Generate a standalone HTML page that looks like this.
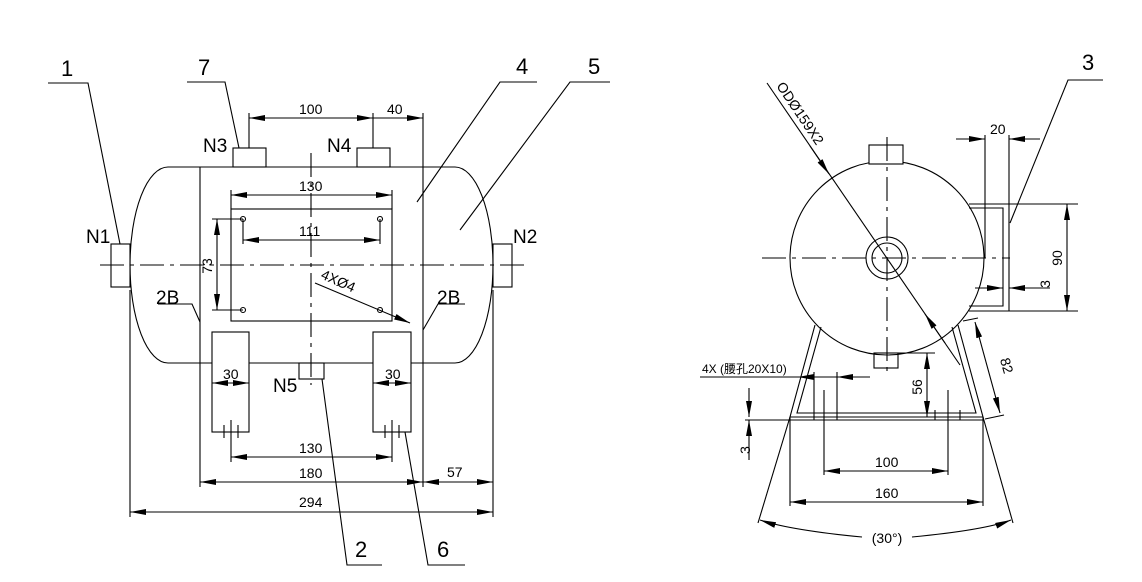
<!DOCTYPE html>
<html><head><meta charset="utf-8"><style>
body{margin:0;background:#fff}
svg{display:block}
text{font-family:"Liberation Sans","Noto Sans CJK SC",sans-serif;fill:#000}
.t{font-size:14px}
.b{font-size:22px}
.n{font-size:19px}
</style></head><body>
<svg width="1142" height="582" viewBox="0 0 1142 582" xmlns="http://www.w3.org/2000/svg">
<defs>
<marker id="a" viewBox="0 0 16 6" refX="16" refY="3" markerWidth="16" markerHeight="6" markerUnits="userSpaceOnUse" orient="auto-start-reverse"><path d="M0,0L16,3L0,6z" fill="#000"/></marker>
</defs>
<g stroke="#000" stroke-width="1.1" fill="none">
<path d="M168,167 L455,167 A38,98 0 0 1 455,363 L168,363 A38,98 0 0 1 168,167 Z"/>
<line x1="200" y1="167" x2="200" y2="487"/>
<line x1="423" y1="113" x2="423" y2="487"/>
<rect x="233" y="148" width="33" height="19"/>
<rect x="357" y="148" width="33" height="19"/>
<rect x="111" y="244" width="19" height="43"/>
<rect x="493" y="244" width="19" height="43"/>
<rect x="231" y="209" width="161" height="112"/>
<rect x="212" y="332" width="37" height="100" fill="#fff"/>
<rect x="373" y="332" width="38" height="100" fill="#fff"/>
<rect x="299" y="363" width="25" height="16"/>
<line x1="100" y1="265" x2="524" y2="265" stroke-dasharray="24,6,4,6"/>
<line x1="311" y1="153" x2="311" y2="385" stroke-dasharray="24,6,4,6"/>
<circle cx="243" cy="219" r="2.5"/><circle cx="380" cy="219" r="2.5"/>
<circle cx="243" cy="310" r="2.5"/><circle cx="380" cy="310" r="2.5"/>
<line x1="249" y1="148" x2="249" y2="113"/><line x1="373" y1="148" x2="373" y2="113"/>
<line x1="249" y1="118" x2="373" y2="118" marker-start="url(#a)" marker-end="url(#a)"/>
<line x1="373" y1="118" x2="423" y2="118" marker-end="url(#a)"/>
<line x1="231" y1="190" x2="231" y2="209"/><line x1="392" y1="190" x2="392" y2="209"/>
<line x1="231" y1="195" x2="392" y2="195" marker-start="url(#a)" marker-end="url(#a)"/>
<line x1="243" y1="219" x2="243" y2="244"/><line x1="380" y1="219" x2="380" y2="244"/>
<line x1="243" y1="240" x2="380" y2="240" marker-start="url(#a)" marker-end="url(#a)"/>
<line x1="212" y1="219" x2="243" y2="219"/><line x1="212" y1="310" x2="243" y2="310"/>
<line x1="217" y1="219" x2="217" y2="310" marker-start="url(#a)" marker-end="url(#a)"/>
<line x1="315" y1="283" x2="410" y2="323" marker-end="url(#a)"/>
<line x1="212" y1="383" x2="249" y2="383" marker-start="url(#a)" marker-end="url(#a)"/>
<line x1="373" y1="383" x2="411" y2="383" marker-start="url(#a)" marker-end="url(#a)"/>
<line x1="231" y1="420" x2="231" y2="462"/><line x1="392" y1="420" x2="392" y2="462"/>
<line x1="224" y1="425" x2="224" y2="438"/><line x1="238" y1="425" x2="238" y2="438"/>
<line x1="385" y1="425" x2="385" y2="438"/><line x1="399" y1="425" x2="399" y2="438"/>
<line x1="231" y1="457" x2="392" y2="457" marker-start="url(#a)" marker-end="url(#a)"/>
<line x1="200" y1="482" x2="423" y2="482" marker-start="url(#a)" marker-end="url(#a)"/>
<line x1="423" y1="482" x2="493" y2="482" marker-start="url(#a)" marker-end="url(#a)"/>
<line x1="130" y1="290" x2="130" y2="517"/><line x1="493" y1="290" x2="493" y2="517"/>
<line x1="130" y1="512" x2="493" y2="512" marker-start="url(#a)" marker-end="url(#a)"/>
<polyline points="48,83 88,83 120,244"/>
<polyline points="187,82 225,82 239,148"/>
<polyline points="537,82 500,82 417,202"/>
<polyline points="610,82 570,82 460,230"/>
<polyline points="158,304 192,304 200,322"/>
<polyline points="465,304 438,304 423,330"/>
<polyline points="322,379 347,565 382,565"/>
<polyline points="405,432 428,565 465,565"/>
<circle cx="887" cy="258" r="97"/>
<circle cx="887" cy="258" r="21"/><circle cx="887" cy="258" r="15"/>
<rect x="869" y="145" width="34" height="19" fill="#fff"/>
<rect x="874" y="353" width="24" height="15"/>
<line x1="762" y1="258" x2="1010" y2="258" stroke-dasharray="24,6,4,6"/>
<line x1="887" y1="137" x2="887" y2="377" stroke-dasharray="24,6,4,6"/>
<line x1="767" y1="83" x2="960" y2="365"/>
<line x1="810" y1="146" x2="829" y2="174" marker-end="url(#a)"/>
<line x1="925" y1="314" x2="945" y2="343" marker-start="url(#a)"/>
<path d="M969,204 H1009 V311 H969 M969,208 H1003 V306 H969"/>
<line x1="985" y1="135" x2="985" y2="258"/><line x1="1009" y1="135" x2="1009" y2="204"/>
<line x1="956" y1="139" x2="985" y2="139" marker-end="url(#a)"/>
<line x1="1040" y1="139" x2="1009" y2="139" marker-end="url(#a)"/>
<line x1="1009" y1="204" x2="1078" y2="204"/><line x1="1009" y1="311" x2="1078" y2="311"/>
<line x1="1067" y1="204" x2="1067" y2="311" marker-start="url(#a)" marker-end="url(#a)"/>
<line x1="975" y1="288" x2="1003" y2="288" marker-end="url(#a)"/>
<line x1="1050" y1="288" x2="1009" y2="288" marker-end="url(#a)"/>
<polyline points="1103,80 1068,80 1010,223"/>
<path d="M815,325 L790,417 L983,417 L958,325"/>
<path d="M821,327 L797,413 L976,413 L952,327"/>
<line x1="745" y1="420" x2="983" y2="420"/>
<line x1="700" y1="377" x2="865" y2="377"/>
<line x1="815" y1="377" x2="798" y2="377" marker-end="url(#a)"/>
<line x1="814" y1="372" x2="814" y2="420"/><line x1="837" y1="372" x2="837" y2="420"/>
<line x1="870" y1="377" x2="837" y2="377" marker-end="url(#a)"/>
<line x1="898" y1="353" x2="935" y2="353"/>
<line x1="927" y1="353" x2="927" y2="417" marker-start="url(#a)" marker-end="url(#a)"/>
<line x1="935" y1="410" x2="935" y2="420"/><line x1="960" y1="410" x2="960" y2="420"/>
<line x1="963" y1="321" x2="978" y2="318"/><line x1="985" y1="419" x2="1004" y2="415"/>
<line x1="975" y1="322" x2="1000" y2="413" marker-start="url(#a)" marker-end="url(#a)"/>
<line x1="749" y1="388" x2="749" y2="417" marker-end="url(#a)"/>
<line x1="749" y1="460" x2="749" y2="420" marker-end="url(#a)"/>
<line x1="824" y1="390" x2="824" y2="475"/><line x1="948" y1="390" x2="948" y2="475"/>
<line x1="824" y1="471" x2="948" y2="471" marker-start="url(#a)" marker-end="url(#a)"/>
<line x1="790" y1="417" x2="790" y2="506"/><line x1="983" y1="417" x2="983" y2="506"/>
<line x1="790" y1="502" x2="983" y2="502" marker-start="url(#a)" marker-end="url(#a)"/>
<line x1="790" y1="417" x2="758" y2="523"/><line x1="983" y1="417" x2="1013" y2="523"/>
<path d="M760,520 Q790,530 862,537" marker-start="url(#a)"/>
<path d="M1011,520 Q985,530 912,537" marker-start="url(#a)"/>
</g>
<g>
<text class="b" x="61" y="76">1</text>
<text class="b" x="198" y="75">7</text>
<text class="b" x="516" y="74">4</text>
<text class="b" x="588" y="74">5</text>
<text class="b" x="1082" y="70">3</text>
<text class="b" x="355" y="557">2</text>
<text class="b" x="437" y="557">6</text>
<text class="n" x="86" y="243">N1</text>
<text class="n" x="513" y="243">N2</text>
<text class="n" x="203" y="152">N3</text>
<text class="n" x="327" y="152">N4</text>
<text class="n" x="273" y="392">N5</text>
<text class="n" x="156" y="304">2B</text>
<text class="n" x="437" y="304">2B</text>
<text class="t" x="299" y="114">100</text>
<text class="t" x="387" y="114">40</text>
<text class="t" x="299" y="191">130</text>
<text class="t" x="299" y="236">111</text>
<text class="t" transform="translate(212,266) rotate(-90)" text-anchor="middle">73</text>
<text class="t" transform="translate(320,278) rotate(24)">4XØ4</text>
<text class="t" x="223" y="379">30</text>
<text class="t" x="385" y="379">30</text>
<text class="t" x="299" y="453">130</text>
<text class="t" x="299" y="478">180</text>
<text class="t" x="447" y="477">57</text>
<text class="t" x="299" y="507">294</text>
<text class="t" transform="translate(776,86) rotate(56)">ODØ159X2</text>
<text class="t" x="990" y="134">20</text>
<text class="t" transform="translate(1062,258) rotate(-90)" text-anchor="middle">90</text>
<text class="t" transform="translate(1050,284) rotate(-90)" text-anchor="middle">3</text>
<text class="t" x="702" y="373" style="font-size:12px">4X (腰孔20X10)</text>
<text class="t" transform="translate(922,387) rotate(-90)" text-anchor="middle">56</text>
<text class="t" transform="translate(1002,367) rotate(74)" text-anchor="middle">82</text>
<text class="t" transform="translate(750,450) rotate(-90)" text-anchor="middle">3</text>
<text class="t" x="875" y="467">100</text>
<text class="t" x="875" y="498">160</text>
<text class="t" x="887" y="543" text-anchor="middle">(30°)</text>
</g>
</svg>
</body></html>
